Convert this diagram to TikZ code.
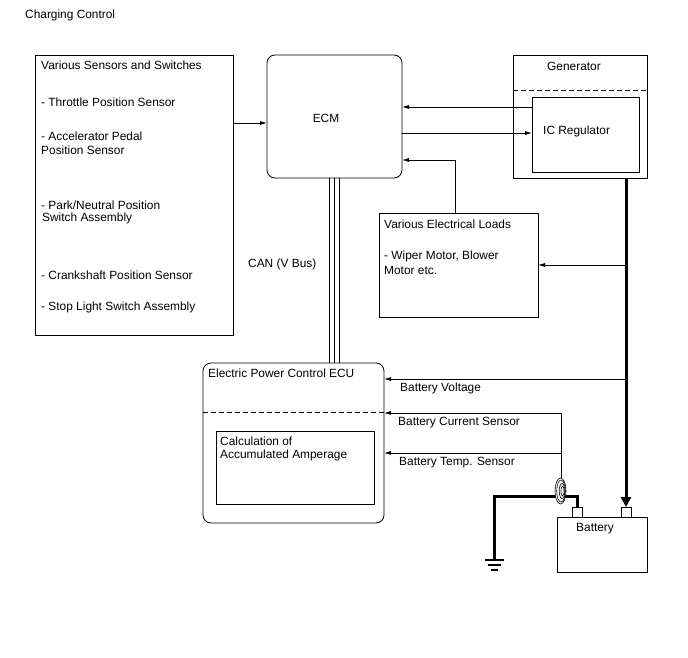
\documentclass[tikz,border=0pt]{standalone}
\usepackage{fontspec}
\setmainfont{Liberation Sans}
\usetikzlibrary{arrows.meta}
\begin{document}
\begin{tikzpicture}[x=1pt,y=-1pt, font=\fontsize{11.9}{14}\selectfont,
 box/.style={draw, line width=0.8pt, inner sep=0pt, outer sep=0pt, anchor=north west},
 rbox/.style={box, rounded corners=8pt},
 txt/.style={anchor=west, inner sep=0pt},
 arr/.style={line width=0.8pt, -{Latex[length=7pt,width=4pt]}},
 wire/.style={line width=0.8pt},
 thickwire/.style={line width=3pt},
 dashline/.style={line width=0.8pt, dash pattern=on 5pt off 3pt}]
\useasboundingbox (0,0) rectangle (688,658);

% title
\node[txt] (title) at (25,15) {Charging Control};

% sensors box
\node[box, minimum width=198pt, minimum height=280pt] (sens) at (35,55) {};
\node[txt] (s1) at (41,65) {Various Sensors and Switches};
\node[txt] (s2) at (41,102) {- Throttle Position Sensor};
\node[txt] (s3) at (41,136) {- Accelerator Pedal};
\node[txt] (s4) at (41,150) {Position Sensor};
\node[txt] (s5) at (41,205) {- Park/Neutral Position};
\node[txt] (s6) at (42,218) {Switch Assembly};
\node[txt] (s7) at (41,275) {- Crankshaft Position Sensor};
\node[txt] (s8) at (41,307) {- Stop Light Switch Assembly};

% ECM
\node[rbox, minimum width=135pt, minimum height=123pt] (ecm) at (267,55) {};
\node (ecmt) at (326,118) {ECM};

% Generator
\node[box, minimum width=134pt, minimum height=123pt] (gen) at (513,55) {};
\node[txt] (gent) at (547,66) {Generator};
\draw[dashline] (gen.west |- 0,90) -- (gen.east |- 0,90);
\node[box, minimum width=107pt, minimum height=75pt] (icr) at (532,97) {};
\node[txt] (icrt) at (543,131) {IC Regulator};

% Various electrical loads
\node[box, minimum width=159pt, minimum height=104pt] (load) at (379,213) {};
\node[txt] (l1) at (384,224) {Various Electrical Loads};
\node[txt] (l2) at (384,256) {- Wiper Motor, Blower};
\node[txt] (l3) at (384,270) {Motor etc.};

% EPC ECU
\node[rbox, minimum width=181pt, minimum height=160pt] (epc) at (203,363) {};
\node[txt] (epct) at (208,373) {Electric Power Control ECU};
\draw[dashline] (epc.west |- 0,412) -- (epc.east |- 0,412);
\node[box, minimum width=158pt, minimum height=73pt] (calc) at (216,431) {};
\node[txt] (c1) at (220,441) {Calculation of};
\node[txt] (c2) at (220,455) {Accumulated Amperage};

% Battery
\node[box, minimum width=90pt, minimum height=55pt] (bat) at (557,517) {};
\node[txt] (batt) at (576,529) {Battery};
\node[box, minimum width=10pt, minimum height=10pt] (neg) at (572,507) {};
\node[box, minimum width=10pt, minimum height=10pt] (pos) at (621,507) {};

% connectors
\draw[arr] (sens.east |- 0,123) -- (ecm.west |- 0,123);
\draw[arr] (icr.west |- 0,107) -- (ecm.east |- 0,107);
\draw[arr] (ecm.east |- 0,133) -- (icr.west |- 0,133);
\draw[arr] (load.north -| 455,0) -- (455,160) -- (ecm.east |- 0,160);

% CAN bus
\foreach \dx in {-5,0,5}
  \draw[wire] ([xshift=\dx pt]ecm.south) -- ([xshift=\dx pt]ecm.south |- epc.north);
\node[txt] (can) at (248,264) {CAN (V Bus)};

% main power line
\coordinate (j1) at (626,265);
\coordinate (j2) at (626,379);
\draw[thickwire, -{Triangle[length=10pt,width=10pt]}] (gen.south -| pos.north) -- (pos.north);
\draw[arr] (j1) -- (load.east |- j1);
\draw[arr] (j2) -- (epc.east |- j2);
\node[txt] (bv) at (400,388) {Battery Voltage};

% sensor lines
\coordinate (k1) at (561,413);
\coordinate (k2) at (561,453);
\coordinate (k3) at (561,478);
\draw[arr] (k3) -- (k1) -- (epc.east |- k1);
\draw[arr] (k2) -- (epc.east |- k2);
\node[txt] (bcs) at (398,423) {Battery Current Sensor};
\node[txt] (bts) at (399,463) {Battery Temp. Sensor};

% ground wire
\coordinate (g1) at (494,560);
\draw[thickwire] (neg.north) -- (neg.north |- 0,496) -- (494,496) -- (g1);
\draw[line width=2pt] (485,560) -- (504,560);
\draw[line width=2pt] (488,565) -- (501,565);
\draw[line width=2pt] (491,570) -- (498,570);

% current sensor coil
\draw[line width=0.6pt, fill=white] (560.5,491) ellipse [x radius=5.5pt, y radius=13pt];
\draw[line width=0.6pt] (561,491) ellipse [x radius=4.3pt, y radius=11pt];
\draw[line width=0.6pt] (562,491) ellipse [x radius=2.8pt, y radius=7.5pt];
\draw[line width=0.6pt] (562.5,491) ellipse [x radius=1.6pt, y radius=5pt];
\end{tikzpicture}
\end{document}
